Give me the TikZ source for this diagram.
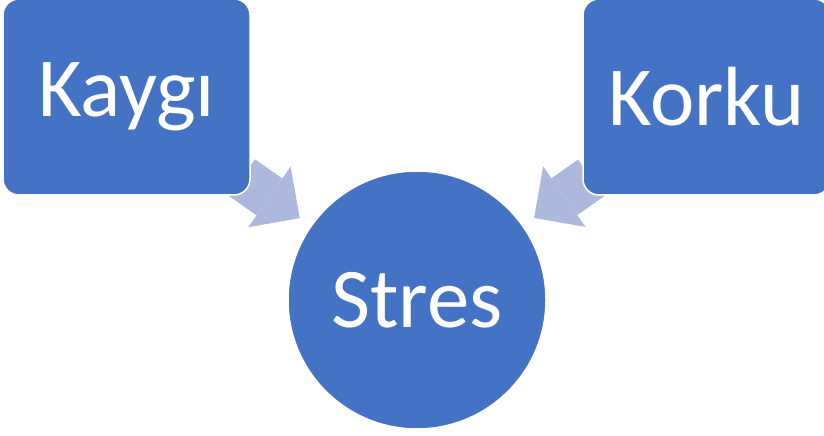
\documentclass[tikz,border=0pt]{standalone}
\usepackage{fontspec}
\setmainfont{Carlito}
\usetikzlibrary{arrows.meta,backgrounds}
\definecolor{boxblue}{HTML}{4472C4}
\definecolor{arrowblue}{HTML}{ADB9DC}

\begin{document}
\begin{tikzpicture}[
    x=1pt, y=1pt,
    block/.style={rectangle, draw=white, line width=1.5pt, rounded corners=16pt, fill=boxblue, text=white, minimum width=247pt, minimum height=196pt, inner sep=0pt, font=\fontsize{84}{100}\selectfont},
    hub/.style={circle, draw=white, line width=1.5pt, fill=boxblue, text=white, minimum size=258pt, inner sep=0pt, font=\fontsize{85}{100}\selectfont},
    arrow/.style={draw=arrowblue, line width=45pt, shorten <=141pt, shorten >=143pt, -{Triangle[length=37pt, width=74pt, line width=0pt]}}
]
    \useasboundingbox (0,0) rectangle (824,436);
    \node[block] (kaygi) at (126.5,339) {Kaygı};
    \node[block] (korku) at (706.5,339) {Korku};
    \node[hub] (stres) at (417,136) {Stres};
    \begin{scope}[on background layer]
        \draw[arrow] (kaygi.center) -- (stres.center);
        \draw[arrow] (korku.center) -- (stres.center);
    \end{scope}
\end{tikzpicture}
\end{document}
